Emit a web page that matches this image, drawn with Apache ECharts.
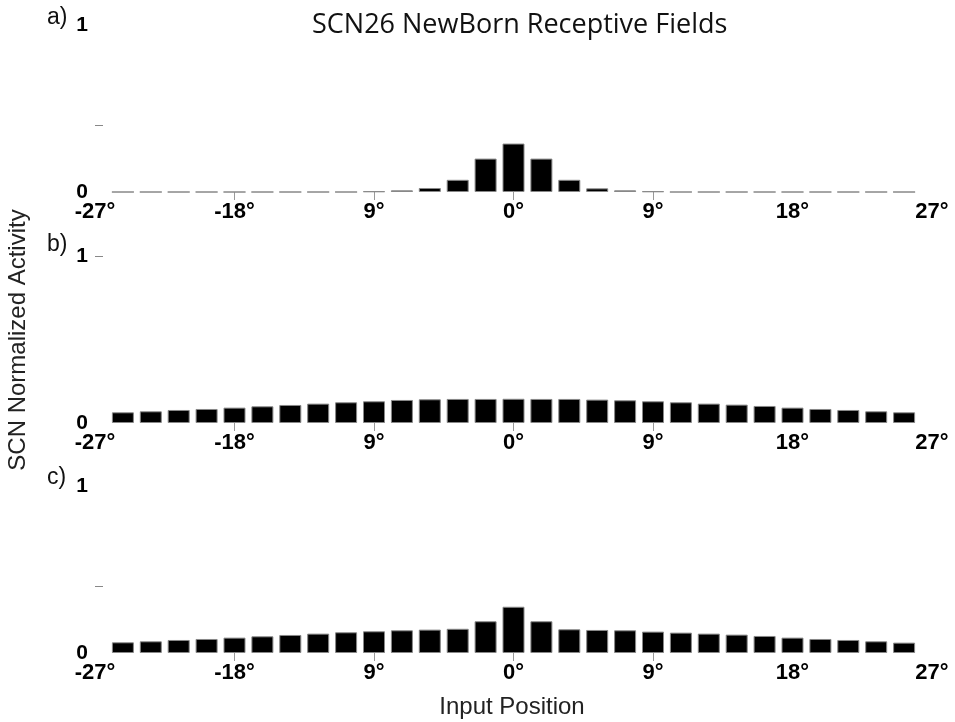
<!DOCTYPE html>
<html>
<head>
<meta charset="utf-8">
<script src="https://cdn.jsdelivr.net/npm/echarts@6/dist/echarts.min.js"></script>
<style>
  html, body { margin: 0; padding: 0; background: #fff; }
  #main { width: 955px; height: 722px; }
</style>
</head>
<body>
<div id="main"></div>
<script>
// input positions (degrees), one bar each
var positions = [-25.2, -23.4, -21.6, -19.8, -18, -16.2, -14.4, -12.6, -10.8, -9, -7.2, -5.4, -3.6, -1.8,
  0, 1.8, 3.6, 5.4, 7.2, 9, 10.8, 12.6, 14.4, 16.2, 18, 19.8, 21.6, 23.4, 25.2];

// a) narrow field
var fieldA = [0, 0, 0, 0, 0, 0, 0, 0, 0, 0.004, 0.01, 0.024, 0.073, 0.2,
  0.29, 0.2, 0.073, 0.022, 0.01, 0.004, 0, 0, 0, 0, 0, 0, 0, 0, 0];
// b) broad field
var fieldB = [0.064, 0.07, 0.078, 0.084, 0.092, 0.1, 0.108, 0.116, 0.124, 0.13, 0.138, 0.142, 0.144, 0.144,
  0.145, 0.144, 0.144, 0.14, 0.136, 0.13, 0.124, 0.116, 0.11, 0.102, 0.092, 0.084, 0.078, 0.07, 0.064];
// c) broad field with peak
var fieldC = [0.064, 0.07, 0.078, 0.084, 0.092, 0.1, 0.108, 0.116, 0.124, 0.13, 0.136, 0.14, 0.145, 0.19,
  0.277, 0.19, 0.142, 0.138, 0.136, 0.128, 0.122, 0.116, 0.11, 0.102, 0.092, 0.084, 0.078, 0.07, 0.062];

var xTickValues = [-27, -18, -9, 0, 9, 18, 27];
var xTickLabels = ['-27°', '-18°', '9°', '0°', '9°', '18°', '27°'];
var yTickValues = [0, 1];
var panelLabels = ['a)', 'b)', 'c)'];
var fields = [fieldA, fieldB, fieldC];
// which y tick is drawn darker in each panel
var yMarkTicks = [[0.4], [1], [0.4]];

var gridTops = [25, 256, 486];
var gridH = 167;

var myChart = echarts.init(document.getElementById('main'));

var grids = [], xAxes = [], yAxes = [], series = [];
var textFont = '"Liberation Sans", Arial, sans-serif';

for (var i = 0; i < 3; i++) {
  grids.push({ left: 95, right: 23, top: gridTops[i], height: gridH });
  xAxes.push({
    type: 'value', gridIndex: i, min: -27, max: 27, interval: 9,
    axisLine: { show: false },
    splitLine: { show: false },
    axisTick: { show: true, customValues: [-18, -9, 0, 9], length: 8, lineStyle: { color: '#999', width: 1 } },
    axisLabel: {
      customValues: xTickValues,
      margin: 9,
      color: '#000', fontWeight: 'bold', fontSize: 22, fontFamily: textFont,
      formatter: function (v) {
        var k = xTickValues.indexOf(v);
        return k >= 0 ? xTickLabels[k] : '';
      }
    }
  });
  yAxes.push({
    type: 'value', gridIndex: i, min: 0, max: 1, interval: 0.2,
    axisLine: { show: false, onZero: false },
    splitLine: { show: false },
    axisTick: { show: true, inside: true, length: 8, customValues: yMarkTicks[i], lineStyle: { color: '#888' } },
    axisLabel: {
      customValues: yTickValues,
      margin: 7,
      color: '#000', fontWeight: 'bold', fontSize: 21, fontFamily: textFont
    }
  });
  var pts = positions.map(function (p, k) { return [p, fields[i][k]]; });
  series.push({
    type: 'bar', xAxisIndex: i, yAxisIndex: i,
    data: pts,
    barWidth: 22,
    itemStyle: { color: '#000', borderColor: '#888', borderWidth: 1 },
    silent: true,
    animation: false
  });
}

var graphics = [
  { type: 'text', left: 312, top: 12, style: { text: 'SCN26 NewBorn Receptive Fields', font: '27px "Open Sans", "Noto Sans", sans-serif', fill: '#111' } },
  { type: 'text', x: 18, y: 340, rotation: Math.PI / 2, style: { text: 'SCN Normalized Activity', font: '24px ' + textFont, fill: '#222', align: 'center', verticalAlign: 'middle' } },
  { type: 'text', x: 512, y: 707, style: { text: 'Input Position', font: '24px ' + textFont, fill: '#222', align: 'center', verticalAlign: 'middle' } }
];
var labelY = [18, 245, 478];
for (var j = 0; j < 3; j++) {
  graphics.push({ type: 'text', x: 47, y: labelY[j], style: { text: panelLabels[j], font: '23px ' + textFont, fill: '#111', verticalAlign: 'middle' } });
}

var option = {
  backgroundColor: '#fff',
  animation: false,
  grid: grids,
  xAxis: xAxes,
  yAxis: yAxes,
  series: series,
  graphic: graphics
};
myChart.setOption(option);
</script>
</body>
</html>
